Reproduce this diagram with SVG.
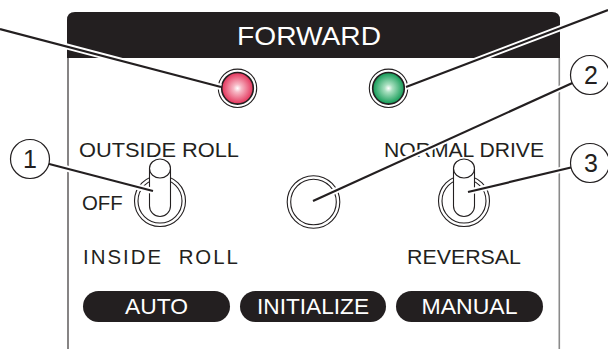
<svg xmlns="http://www.w3.org/2000/svg" width="608" height="349" viewBox="0 0 608 349">
<style>
.t{font-family:"Liberation Sans",Arial,sans-serif;fill:#231f20;}
.w{font-family:"Liberation Sans",Arial,sans-serif;fill:#ffffff;}
.ring{fill:none;stroke:#231f20;stroke-width:1.1;}
.lever{fill:#ffffff;stroke:#231f20;stroke-width:1.1;}
.pill{fill:#231f20;}
.halo{stroke:#ffffff;stroke-width:6;fill:none;}
.core{stroke:#231f20;stroke-width:2.2;fill:none;}
.call{fill:#ffffff;stroke:#231f20;stroke-width:1.2;}
</style>
<defs>
<radialGradient id="gRed" cx="0.5" cy="0.5" r="0.5">
<stop offset="0" stop-color="#ffffff"/>
<stop offset="0.25" stop-color="#f7b9c6"/>
<stop offset="1" stop-color="#e3335a"/>
</radialGradient>
<radialGradient id="gGreen" cx="0.5" cy="0.5" r="0.5">
<stop offset="0" stop-color="#ffffff"/>
<stop offset="0.25" stop-color="#a9e0c0"/>
<stop offset="1" stop-color="#119a55"/>
</radialGradient>
<g id="toggle">
<circle r="25.5" class="ring"/>
<circle r="22" class="ring"/>
<path class="lever" d="M -10.5 -32.5 A 10.5 9.5 0 0 1 10.5 -32.5 L 10.5 5 A 10.5 10.5 0 0 1 -10.5 5 Z"/>
<path class="ring" d="M -10.5 -32.5 A 10.5 9.5 0 0 0 10.5 -32.5"/>
</g>
</defs>
<rect width="608" height="349" fill="#ffffff"/>
<g id="panel">
<path d="M 67 58 V 20 Q 67 12 75 12 H 552 Q 560 12 560 20 V 58 Z" fill="#231f20"/>
<line x1="68" y1="58" x2="68" y2="349" stroke="#231f20" stroke-width="1.1"/>
<line x1="559.3" y1="58" x2="559.3" y2="349" stroke="#8a8a8a" stroke-width="1.6"/>
<text class="w" x="309" y="45" font-size="25.5" text-anchor="middle" textLength="144" lengthAdjust="spacingAndGlyphs">FORWARD</text>
</g>
<g id="led-red">
<circle cx="237.5" cy="88.3" r="19.2" class="ring"/>
<circle cx="237.5" cy="88.3" r="15.8" fill="url(#gRed)" stroke="#231f20" stroke-width="1.6"/>
</g>
<g id="led-green">
<circle cx="388.5" cy="88.3" r="19.2" class="ring"/>
<circle cx="388.5" cy="88.3" r="15.8" fill="url(#gGreen)" stroke="#231f20" stroke-width="1.6"/>
</g>
<g id="switch-roll">
<text class="t" x="79" y="157" font-size="20.4" textLength="160" lengthAdjust="spacingAndGlyphs">OUTSIDE ROLL</text>
<text class="t" x="82" y="210" font-size="20.4">OFF</text>
<text class="t" x="83" y="264" font-size="20.4" letter-spacing="2" word-spacing="8">INSIDE ROLL</text>
<use href="#toggle" x="160" y="201"/>
</g>
<g id="button-center">
<circle cx="313.5" cy="202" r="26.3" class="ring"/>
<circle cx="313.5" cy="202" r="22.8" class="ring"/>
</g>
<g id="switch-drive">
<text class="t" x="384" y="157" font-size="20.4" textLength="160" lengthAdjust="spacingAndGlyphs">NORMAL DRIVE</text>
<text class="t" x="407" y="264" font-size="20.4" textLength="114" lengthAdjust="spacingAndGlyphs">REVERSAL</text>
<use href="#toggle" x="464" y="201"/>
</g>
<g id="btn-auto">
<rect class="pill" x="83" y="291" width="147" height="31" rx="15.5"/>
<text class="w" x="156.5" y="314" font-size="22" text-anchor="middle" textLength="63" lengthAdjust="spacingAndGlyphs">AUTO</text>
</g>
<g id="btn-initialize">
<rect class="pill" x="240" y="291" width="146" height="31" rx="15.5"/>
<text class="w" x="313" y="314" font-size="22" text-anchor="middle" textLength="112" lengthAdjust="spacingAndGlyphs">INITIALIZE</text>
</g>
<g id="btn-manual">
<rect class="pill" x="396" y="291" width="147" height="31" rx="15.5"/>
<text class="w" x="469.5" y="314" font-size="22" text-anchor="middle" textLength="96" lengthAdjust="spacingAndGlyphs">MANUAL</text>
</g>
<g id="connectors">
<g class="halo">
<line x1="0" y1="29" x2="221" y2="87"/>
<line x1="406" y1="87" x2="608" y2="10"/>
<line x1="30" y1="159" x2="153" y2="191"/>
<line x1="590" y1="75" x2="313" y2="201"/>
<line x1="590" y1="163" x2="468" y2="192"/>
</g>
<g class="core">
<line x1="0" y1="29" x2="221" y2="87"/>
<line x1="406" y1="87" x2="608" y2="10"/>
<line x1="30" y1="159" x2="153" y2="191"/>
<line x1="590" y1="75" x2="313" y2="201"/>
<line x1="590" y1="163" x2="468" y2="192"/>
</g>
</g>
<g id="callout-1">
<circle class="call" cx="30" cy="159" r="19.5"/>
<text class="t" x="30" y="168" font-size="25" text-anchor="middle">1</text>
</g>
<g id="callout-2">
<circle class="call" cx="590" cy="75" r="19.5"/>
<text class="t" x="591" y="84" font-size="25" text-anchor="middle">2</text>
</g>
<g id="callout-3">
<circle class="call" cx="590" cy="163" r="19.5"/>
<text class="t" x="591" y="172" font-size="25" text-anchor="middle">3</text>
</g>
</svg>
